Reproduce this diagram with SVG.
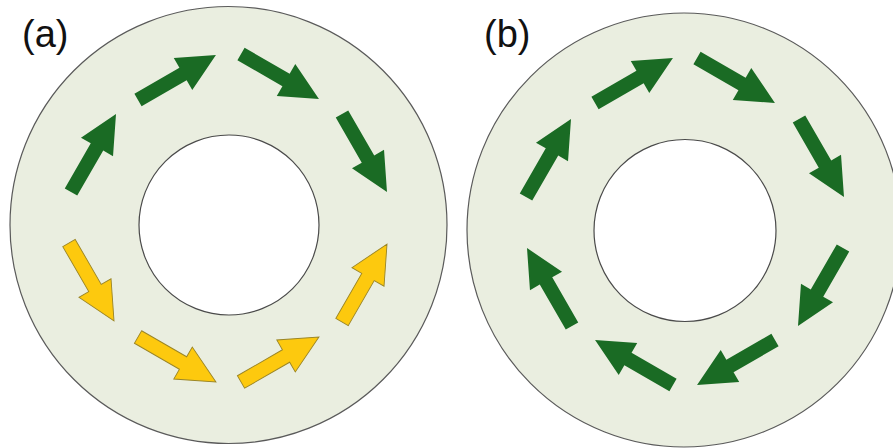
<svg xmlns="http://www.w3.org/2000/svg" width="893" height="448" viewBox="0 0 893 448">
  <style>
    .ring { fill: #eaeee0; stroke: #5a5a5a; stroke-width: 1.2; }
    .hole { fill: #ffffff; stroke: #4a4a4a; stroke-width: 1.2; }
    .green { fill: #1a6b24; }
    .yellow { fill: #fdc90e; stroke: #9a8526; stroke-width: 0.9; stroke-linejoin: miter; }
    .label { font-family: "Liberation Sans", Arial, sans-serif; font-size: 38px; fill: #111111; }
  </style>
  <defs>
    <!-- block arrow: tail at origin, pointing along +x, 90 long -->
    <path id="arrow" d="M0,-7.2 L52,-7.2 L52,-18.5 L90,0 L52,18.5 L52,7.2 L0,7.2 Z"/>
  </defs>
  <rect width="893" height="448" fill="#ffffff"/>

  <!-- panel (a) -->
  <g id="panel-a">
    <g id="ring-a">
      <circle class="ring" cx="228.5" cy="225" r="218.5"/>
      <circle class="hole" cx="229" cy="225" r="90"/>
    </g>
    <text id="label-a" class="label" x="22" y="47">(a)</text>
    <g id="arrows-a">
      <use href="#arrow" class="green" transform="translate(71,192) rotate(-60)"/>
      <use href="#arrow" class="green" transform="translate(138,100) rotate(-30)"/>
      <use href="#arrow" class="green" transform="translate(241,54) rotate(30)"/>
      <use href="#arrow" class="green" transform="translate(342,114) rotate(60)"/>
      <use href="#arrow" class="yellow" transform="translate(69,243) rotate(60)"/>
      <use href="#arrow" class="yellow" transform="translate(138,337) rotate(30)"/>
      <use href="#arrow" class="yellow" transform="translate(241,382) rotate(-30)"/>
      <use href="#arrow" class="yellow" transform="translate(342,322) rotate(-60)"/>
    </g>
  </g>

  <!-- panel (b) -->
  <g id="panel-b">
    <g id="ring-b">
      <circle class="ring" cx="684" cy="230" r="217"/>
      <circle class="hole" cx="685" cy="230.5" r="91"/>
    </g>
    <text id="label-b" class="label" x="484" y="47">(b)</text>
    <g id="arrows-b">
      <use href="#arrow" class="green" transform="translate(526,197) rotate(-60)"/>
      <use href="#arrow" class="green" transform="translate(595,103) rotate(-30)"/>
      <use href="#arrow" class="green" transform="translate(697,58) rotate(30)"/>
      <use href="#arrow" class="green" transform="translate(799,119) rotate(60)"/>
      <use href="#arrow" class="green" transform="translate(843,248) rotate(120)"/>
      <use href="#arrow" class="green" transform="translate(775,340) rotate(150)"/>
      <use href="#arrow" class="green" transform="translate(673,385) rotate(210)"/>
      <use href="#arrow" class="green" transform="translate(572,326) rotate(240)"/>
    </g>
  </g>
</svg>
